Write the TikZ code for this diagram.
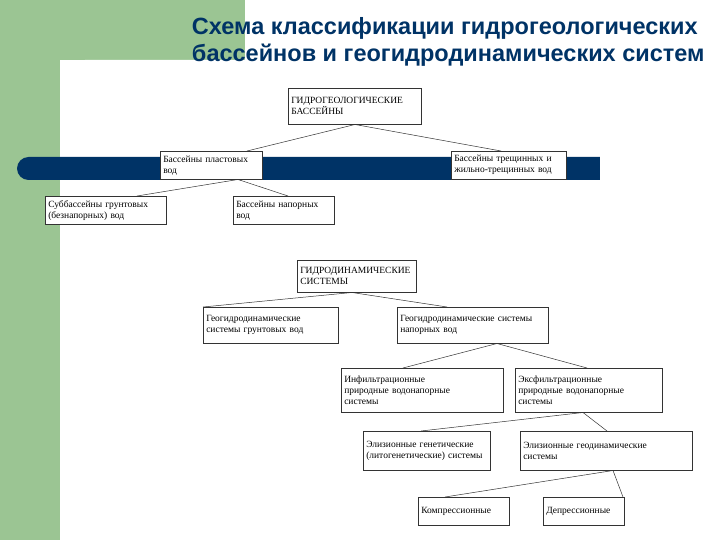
\documentclass[tikz,border=0pt]{standalone}
\usepackage{fontspec}
\setmainfont{Liberation Serif}
\newfontfamily\titlefont{Liberation Sans}
\usetikzlibrary{calc}
\definecolor{grn}{HTML}{9BC593}
\definecolor{navy}{HTML}{003366}
\begin{document}
\begin{tikzpicture}[x=1pt,y=-1pt,
  bx/.style={draw=black!80,line width=0.5pt,fill=white,font=\fontsize{9.5}{11}\selectfont,align=left,inner sep=3pt,anchor=north west},
  ln/.style={draw=black!80,line width=0.5pt}]
\useasboundingbox (0,0) rectangle (720,540);
\fill[white] (0,0) rectangle (720,540);
\fill[grn] (0,0) rectangle (245,60);
\fill[grn] (0,0) rectangle (60,540);
\fill[white,rounded corners=25] (60,560) rectangle (740,60);
\fill[white] (245,0) rectangle (720,60);
\fill[navy,rounded corners=11.5] (17,157) rectangle (620,180);
\fill[white] (600,150) rectangle (720,190);
\node[font=\titlefont\bfseries\fontsize{23.5}{27}\selectfont,text=navy,align=left,anchor=north east] (title) at (708,14) {Схема классификации гидрогеологических\\бассейнов и геогидродинамических систем};
\newcommand\bxat[6]{\node[bx,minimum width=#4-#2,minimum height=#5-#3,text width=#4-#2-6] (#1) at (#2,#3) {#6};}
\bxat{gb}{288}{88}{421}{124}{ГИДРОГЕОЛОГИЧЕСКИЕ\\БАССЕЙНЫ}
\bxat{pl}{160}{151}{262}{179}{Бассейны пластовых\\вод}
\bxat{tr}{451}{151}{566}{179}{Бассейны трещинных и\\жильно-трещинных вод}
\bxat{sb}{45}{196}{166}{224}{Суббассейны грунтовых\\(безнапорных) вод}
\bxat{np}{233}{196}{334}{224}{Бассейны напорных\\вод}
\bxat{gd}{297}{260}{416}{292}{ГИДРОДИНАМИЧЕСКИЕ\\СИСТЕМЫ}
\bxat{gg}{203}{307}{338}{343}{Геогидродинамические\\системы грунтовых вод}
\bxat{gn}{397}{307}{548}{343}{Геогидродинамические системы\\напорных вод}
\bxat{inf}{341}{368}{503}{412}{Инфильтрационные\\природные водонапорные\\системы}
\bxat{exf}{515}{368}{662}{412}{Эксфильтрационные\\природные водонапорные\\системы}
\bxat{elg}{363}{431}{490}{470}{Элизионные генетические\\(литогенетические) системы}
\bxat{eld}{520}{431}{692}{470}{Элизионные геодинамические\\системы}
\bxat{kom}{418}{497}{509}{525}{Компрессионные}
\bxat{dep}{543}{497}{624}{525}{Депрессионные}
\draw[ln] ($(gb.south west)+(67,0)$) -- ($(pl.north west)+(87,0)$);
\draw[ln] ($(gb.south west)+(67,0)$) -- ($(tr.north west)+(50,0)$);
\draw[ln] ($(pl.south west)+(78,0)$) -- ($(sb.north west)+(92,0)$);
\draw[ln] ($(pl.south west)+(78,0)$) -- ($(np.north west)+(55,0)$);
\draw[ln] ($(gd.south west)+(55,0)$) -- ($(gg.north west)+(0,0)$);
\draw[ln] ($(gd.south west)+(55,0)$) -- ($(gn.north west)+(50,0)$);
\draw[ln] ($(gn.south west)+(100,0)$) -- ($(inf.north west)+(62,0)$);
\draw[ln] ($(gn.south west)+(100,0)$) -- ($(exf.north west)+(72,0)$);
\draw[ln] ($(exf.south west)+(68,0)$) -- ($(elg.north west)+(58,0)$);
\draw[ln] ($(exf.south west)+(68,0)$) -- ($(eld.north west)+(87,0)$);
\draw[ln] ($(eld.south west)+(93,0)$) -- ($(kom.north west)+(27,0)$);
\draw[ln] ($(eld.south west)+(93,0)$) -- ($(dep.north west)+(80,0)$);
\end{tikzpicture}
\end{document}
